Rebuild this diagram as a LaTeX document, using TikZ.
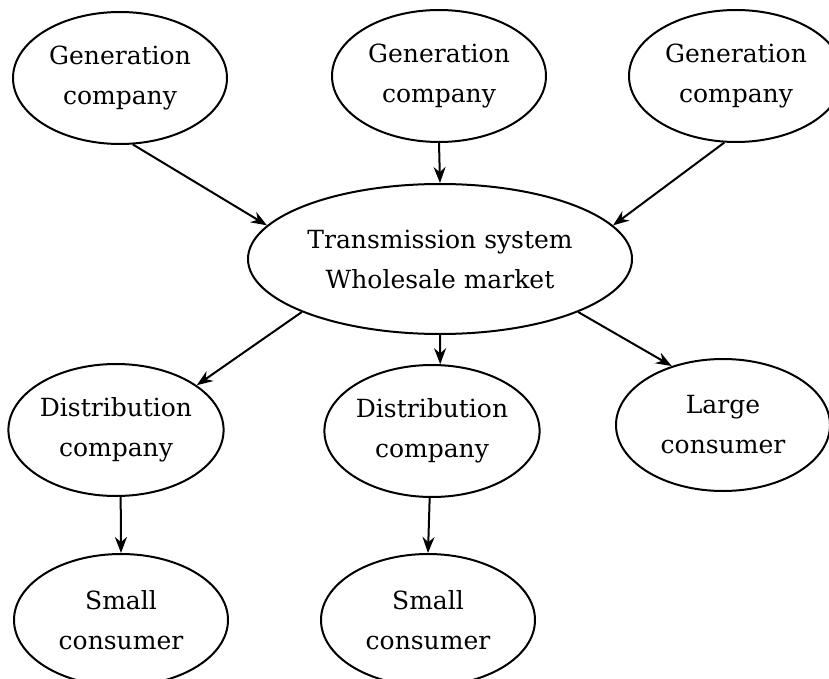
\documentclass[tikz,border=0pt]{standalone}
\usepackage{fontspec}
\setmainfont{DejaVu Serif}
\usetikzlibrary{shapes.geometric,arrows.meta}

\begin{document}
\begin{tikzpicture}[x=0.5pt, y=-0.5pt,
    unit/.style={ellipse, draw, line width=1pt, inner sep=0pt,
        minimum width=107pt, minimum height=66pt, align=center,
        font=\fontsize{12.5}{20}\selectfont},
    hub/.style={unit, minimum width=192pt, minimum height=75pt},
    flow/.style={-{Stealth[length=8pt,width=6pt]}, line width=1pt}]
\clip (0,0) rectangle (829,679);
\node[unit] (gen1) at (120,78) {Generation\\company};
\node[unit] (gen2) at (439,76) {Generation\\company};
\node[unit] (gen3) at (736,76) {Generation\\company};
\node[hub] (market) at (440,259) {Transmission system\\Wholesale market};
\node[unit] (dist1) at (116,430) {Distribution\\company};
\node[unit] (dist2) at (432,431) {Distribution\\company};
\node[unit] (large) at (723,425) {Large\\consumer};
\node[unit] (small1) at (121,620) {Small\\consumer};
\node[unit] (small2) at (428,620) {Small\\consumer};
\draw[flow] (gen1.-79) -- (market.169);
\draw[flow] (gen2.south) -- (market.north);
\draw[flow] (gen3.-100) -- (market.11);
\draw[flow] (market.-159) -- (dist1.29);
\draw[flow] (market.south) -- (dist2.83);
\draw[flow] (market.-21) -- (large.131);
\draw[flow] (dist1.-86) -- (small1.north);
\draw[flow] (dist2.-92) -- (small2.north);
\end{tikzpicture}
\end{document}
